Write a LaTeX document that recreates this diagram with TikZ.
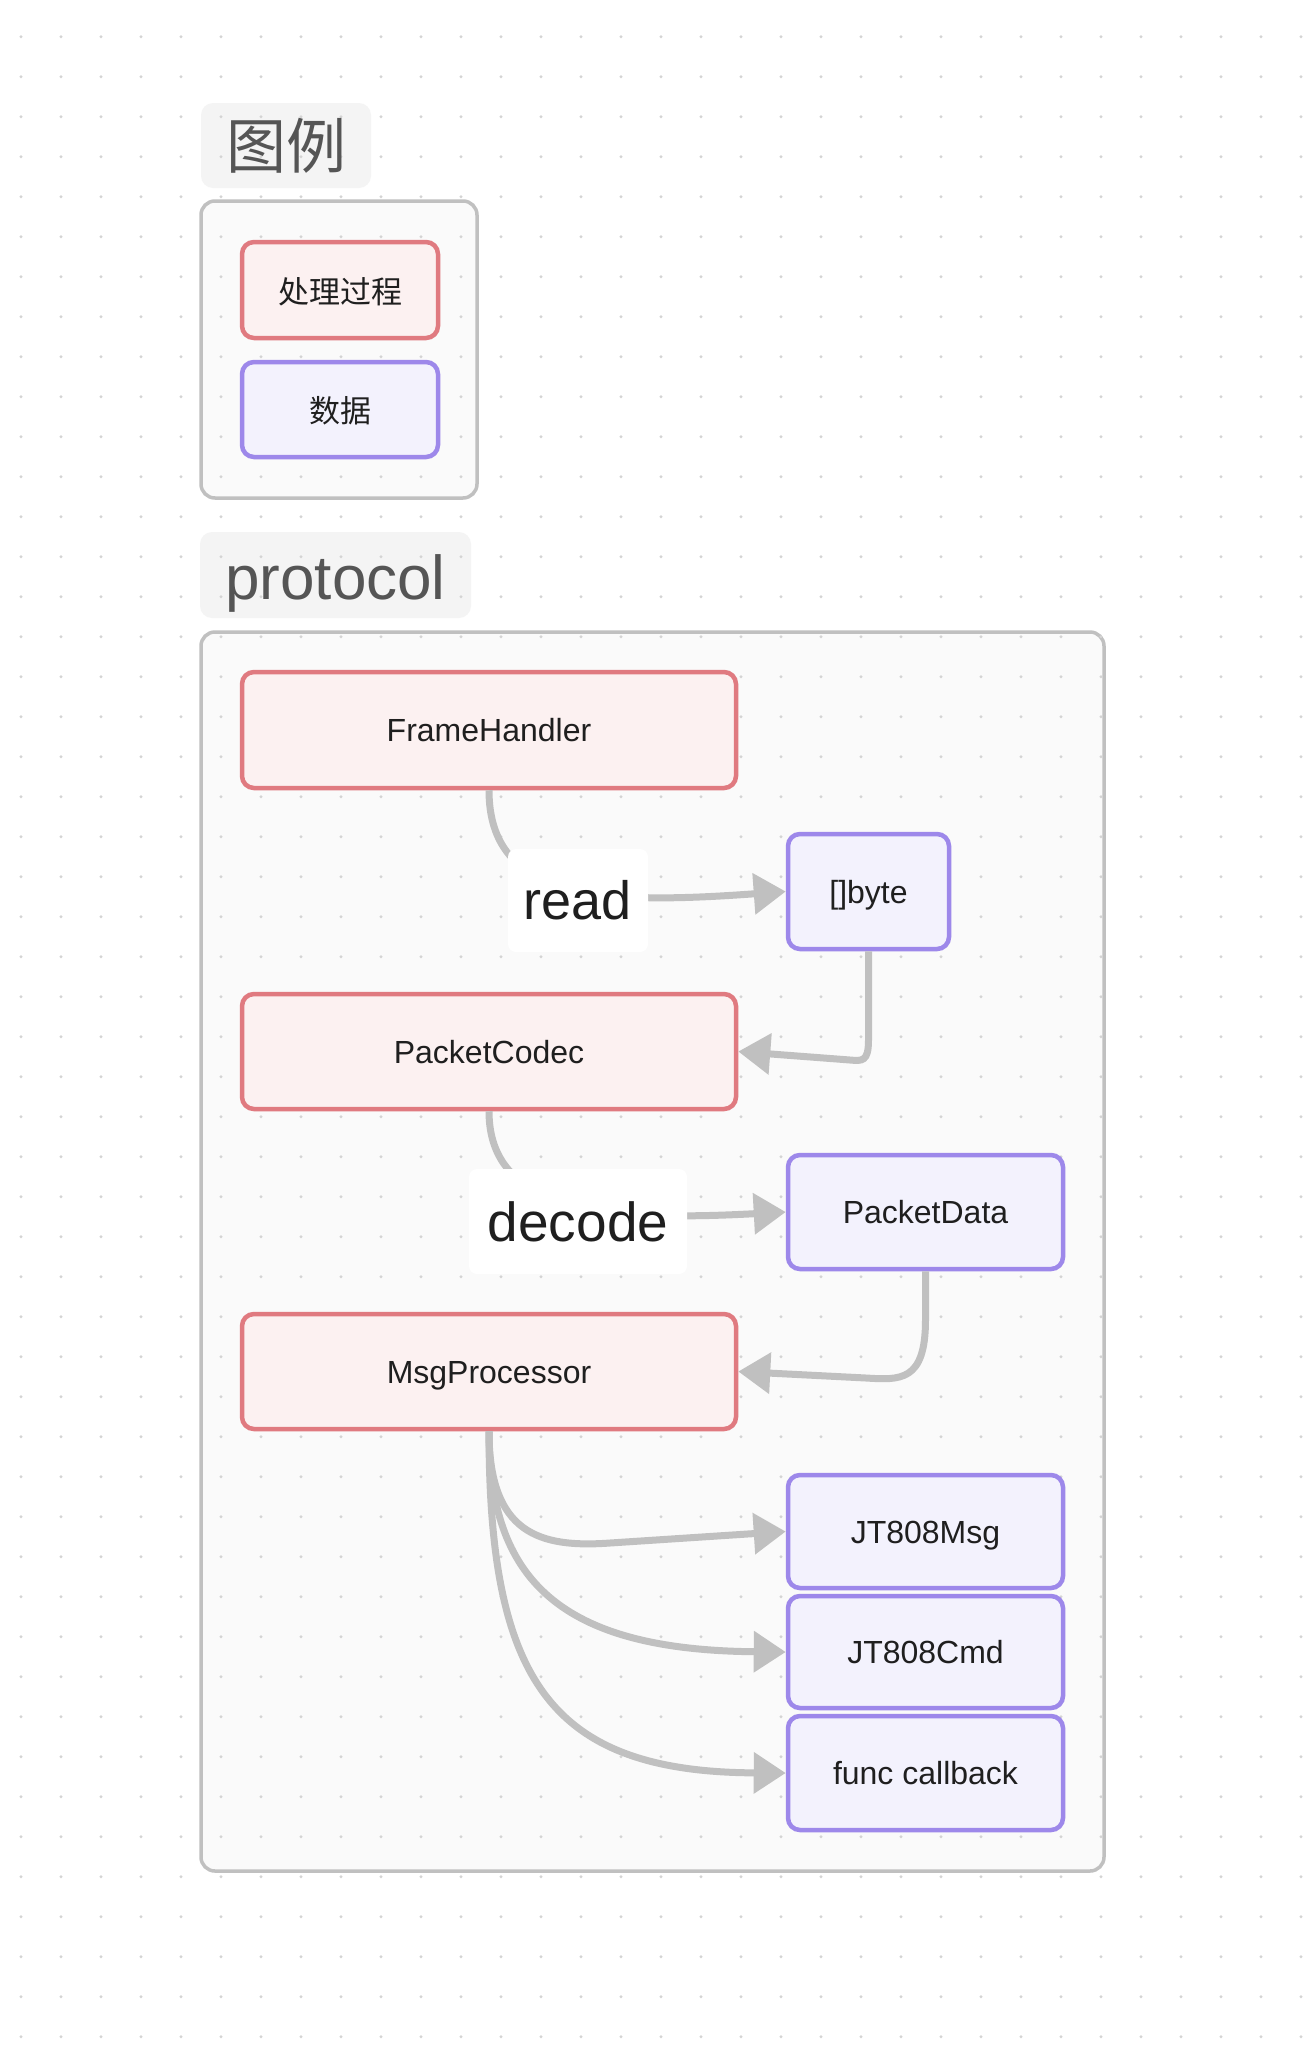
\documentclass[tikz,border=0pt]{standalone}
\usepackage{fontspec}
\setmainfont{Liberation Sans}
\newfontfamily\cjk{Noto Sans CJK SC}
\usetikzlibrary{arrows.meta}
\definecolor{procline}{HTML}{E07A80}
\definecolor{procfill}{HTML}{FCF1F1}
\definecolor{dataline}{HTML}{9D88EA}
\definecolor{datafill}{HTML}{F3F2FD}
\definecolor{grpline}{HTML}{C0C0C0}
\definecolor{grpfill}{HTML}{FAFAFA}
\definecolor{titlefill}{HTML}{F3F3F3}
\definecolor{edgecol}{HTML}{C0C0C0}
\definecolor{dotcol}{HTML}{D4D4D4}
\definecolor{titletext}{HTML}{555555}
\definecolor{boxtext}{HTML}{1F1F1F}
\begin{document}
\begin{tikzpicture}[x=1pt,y=-1pt,
  boxbase/.style={line width=4.5pt, rounded corners=12pt, inner sep=0pt, text=boxtext, font=\fontsize{32}{38}\selectfont, text height=23pt, text depth=0pt},
  proc/.style={boxbase, draw=procline, fill=procfill},
  datab/.style={boxbase, draw=dataline, fill=datafill},
  cjkbox/.style={font=\cjk\fontsize{31}{37}\selectfont, text height=26pt, text depth=0pt},
  grp/.style={draw=grpline, fill=grpfill, line width=3.5pt, rounded corners=14pt},
  ttlbg/.style={fill=titlefill, fill opacity=0.85, rounded corners=12pt},
  ttltext/.style={text=titletext, inner sep=0pt},
  conn/.style={draw=edgecol, line width=7pt, -{Triangle[length=32pt,width=40pt]}},
  lbl/.style={fill=white, rounded corners=8pt, inner sep=0pt, text=boxtext}
]
\fill[white] (0,0) rectangle (1306,2072);
\useasboundingbox (0,0) rectangle (1306,2072);

% containers and title backgrounds
\path[grp] (201,201) rectangle (477,498);
\path[grp] (201,632) rectangle (1104,1871);
\path[ttlbg] (201,103) rectangle (371,188);
\path[ttlbg] (200,532) rectangle (471,618);

% dot grid
\foreach \i in {0,...,32}
  \foreach \j in {0,...,51}
    \fill[dotcol] (21+40*\i, 36.67+40*\j) circle (1.6pt);

% titles
\node[ttltext, font=\cjk\fontsize{60}{66}\selectfont] (legtitle) at (286.5,146) {图例};
\node[ttltext, font=\fontsize{62}{70}\selectfont] (ptitle) at (335.5,583.5) {protocol};

% legend
\node[proc, cjkbox, minimum width=196pt, minimum height=96pt] (lp) at (340,290) {处理过程};
\node[datab, cjkbox, minimum width=196pt, minimum height=95pt] (ld) at (340,409.5) {数据};

% main nodes
\node[proc, minimum width=494pt, minimum height=116pt] (fh) at (489,730) {FrameHandler};
\node[datab, minimum width=161pt, minimum height=115pt] (by) at (868.5,891.5) {[]byte};
\node[proc, minimum width=494pt, minimum height=115pt] (pc) at (489,1051.5) {PacketCodec};
\node[datab, minimum width=275pt, minimum height=114pt] (pd) at (925.5,1212) {PacketData};
\node[proc, minimum width=494pt, minimum height=115pt] (mp) at (489,1371.5) {MsgProcessor};
\node[datab, minimum width=275pt, minimum height=113pt] (jm) at (925.5,1531.5) {JT808Msg};
\node[datab, minimum width=275pt, minimum height=112pt] (jc) at (925.5,1652) {JT808Cmd};
\node[datab, minimum width=275pt, minimum height=114pt] (fc) at (925.5,1773) {func callback};

% connectors
\draw[conn] (fh.south) .. controls (489,900) and (600,905) .. (by.west);
\draw[conn] (by.south) -- (868.5,1040) .. controls (868.5,1062) and (862,1061) .. (850,1060) -- (pc.east);
\draw[conn] (pc.south) .. controls (489,1210) and (600,1222) .. (pd.west);
\draw[conn] (pd.south) -- (925.5,1320) .. controls (925.5,1382) and (900,1380) .. (866,1378) -- (mp.east);
\draw[conn] (mp.south) .. controls (489,1534) and (540,1548) .. (610,1543) -- (jm.west);
\draw[conn] (mp.south) .. controls (489,1580) and (560,1650) .. (jc.west);
\draw[conn] (mp.south) .. controls (489,1680) and (550,1772) .. (fc.west);

% edge labels
\node[lbl, font=\fontsize{54}{60}\selectfont, minimum width=140pt, minimum height=103pt] (rd) at (578,900.5) {read};
\node[lbl, font=\fontsize{55}{60}\selectfont, minimum width=218pt, minimum height=105pt] (dc) at (578,1221.5) {decode};
\end{tikzpicture}
\end{document}
